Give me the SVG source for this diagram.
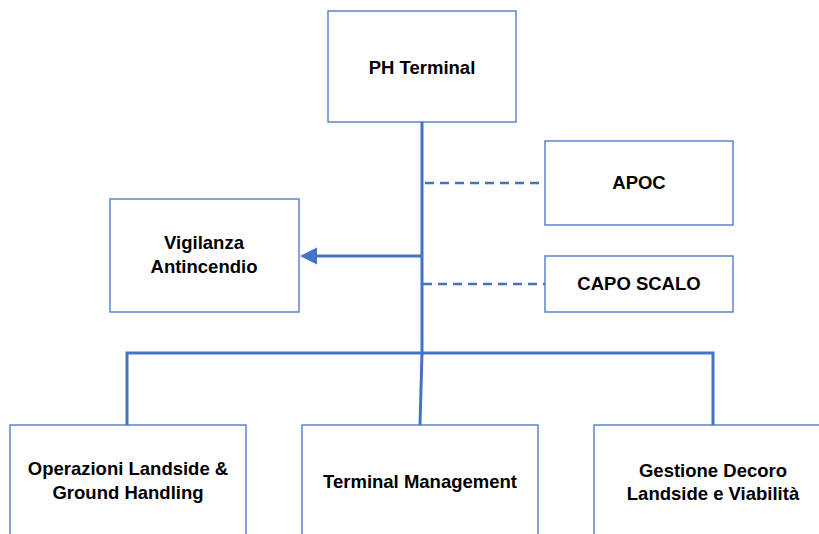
<svg xmlns="http://www.w3.org/2000/svg" width="819" height="534" viewBox="0 0 819 534">
<style>
.box{fill:#ffffff;stroke:#4472C4;stroke-width:1.3}
.t{font-family:"Liberation Sans",Arial,sans-serif;font-weight:bold;font-size:18.5px;fill:#000;text-anchor:middle}
.c{fill:none;stroke:#4472C4;stroke-width:3}
.d{fill:none;stroke:#4472C4;stroke-width:2.5;stroke-dasharray:9 6}
</style>
<defs>
<marker id="arr" markerUnits="userSpaceOnUse" markerWidth="18" markerHeight="18" refX="17" refY="8.5" orient="auto">
<path d="M0,0 L17,8.5 L0,17 Z" fill="#4472C4"/>
</marker>
</defs>
<rect width="819" height="534" fill="#fff"/>
<g id="connectors">
<path class="c" d="M422,122 L422,353 L420,425"/>
<path class="c" d="M127,425 L127,353 L713,353 L713,425"/>
<path class="c" d="M422,256 L317,256"/>
<path d="M300,256 L317,247.5 L317,264.5 Z" fill="#4472C4"/>
<path class="d" d="M425,183 L545,183"/>
<path class="d" d="M423,284 L545,284"/>
</g>
<g id="ph-terminal">
<rect class="box" x="328" y="11" width="188" height="111"/>
<text class="t" x="422" y="74">PH Terminal</text>
</g>
<g id="apoc">
<rect class="box" x="545" y="141" width="188" height="84"/>
<text class="t" x="639" y="189">APOC</text>
</g>
<g id="capo-scalo">
<rect class="box" x="545" y="256" width="188" height="56"/>
<text class="t" x="639" y="290">CAPO SCALO</text>
</g>
<g id="vigilanza">
<rect class="box" x="110" y="199" width="189" height="113"/>
<text class="t" x="204" y="249">Vigilanza</text>
<text class="t" x="204" y="273">Antincendio</text>
</g>
<g id="operazioni">
<rect class="box" x="10" y="425" width="236" height="120"/>
<text class="t" x="128" y="475">Operazioni Landside &amp;</text>
<text class="t" x="128" y="499">Ground Handling</text>
</g>
<g id="terminal-management">
<rect class="box" x="302" y="425" width="236" height="120"/>
<text class="t" x="420" y="488">Terminal Management</text>
</g>
<g id="gestione-decoro">
<rect class="box" x="594" y="425" width="236" height="120"/>
<text class="t" x="713" y="477">Gestione Decoro</text>
<text class="t" x="713" y="500">Landside e Viabilità</text>
</g>
</svg>
